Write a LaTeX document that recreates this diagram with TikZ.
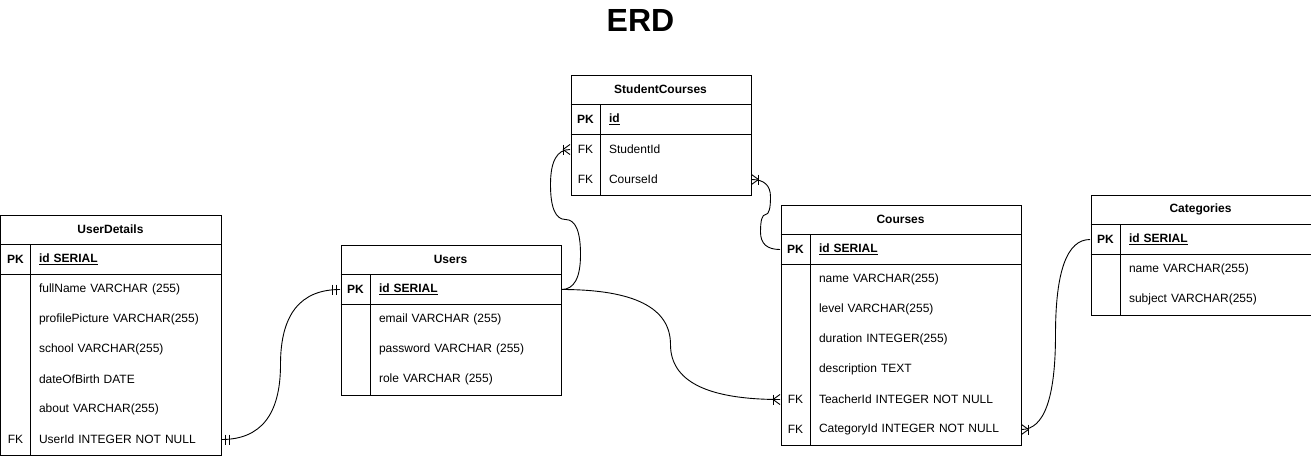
\documentclass[tikz,border=0pt]{standalone}
\usepackage{fontspec}
\setmainfont{Liberation Sans}
\usetikzlibrary{calc}
\begin{document}
\begin{tikzpicture}[x=1pt,y=-1pt,line width=1pt,
  every node/.style={font=\fontsize{12}{14}\selectfont},
  tbl/.style={draw, line width=1pt, inner sep=0pt, anchor=north west},
  hdr/.style={font=\fontsize{12}{14}\selectfont\bfseries, inner sep=0pt},
  keyc/.style={minimum width=30pt, minimum height=30pt, inner sep=0pt},
  pkey/.style={keyc, font=\fontsize{12}{14}\selectfont\bfseries},
  fld/.style={anchor=west, inner xsep=8pt, inner ysep=0pt, minimum height=30pt, align=left},
  fldpk/.style={fld, font=\fontsize{12}{14}\selectfont\bfseries},
  rel/.style={line width=0.9pt},
  endmark/.style={line width=0.9pt}
]
\useasboundingbox (-0.5,-0.5) rectangle (1310.5,454.5);

\node[font=\fontsize{32}{36}\selectfont\bfseries, inner sep=0pt] (title) at (640,19.5) {ERD};

% ---------- UserDetails ----------
\node[tbl, minimum width=220pt, minimum height=240pt] (ud) at (0,214) {};
\draw (0,244) -- (220,244);
\draw (0,274) -- (220,274);
\draw (30,244) -- (30,454);
\node[hdr] (ud-h) at (110,229) {UserDetails};
\node[pkey] (ud-pkk) at (15,259) {PK};
\node[fldpk, text width=174pt] (ud-pk) at (30,259) {\underline{id SERIAL}};
\node[fld, text width=174pt] (ud-f1) at (30,289) {fullName VARCHAR (255)};
\node[fld, text width=174pt] (ud-f2) at (30,319) {profilePicture VARCHAR(255)};
\node[fld, text width=174pt] (ud-f3) at (30,349) {school VARCHAR(255)};
\node[fld, text width=174pt] (ud-f4) at (30,379) {dateOfBirth DATE};
\node[fld, text width=174pt] (ud-f5) at (30,409) {about VARCHAR(255)};
\node[keyc] (ud-uidk) at (15,439) {FK};
\node[fld, text width=174pt] (ud-uid) at (30,439) {UserId INTEGER NOT NULL};

% ---------- Users ----------
\node[tbl, minimum width=220pt, minimum height=150pt] (us) at (340,244) {};
\draw (340,274) -- (560,274);
\draw (340,304) -- (560,304);
\draw (370,274) -- (370,394);
\node[hdr] (us-h) at (450,259) {Users};
\node[pkey] (us-pkk) at (355,289) {PK};
\node[fldpk, text width=174pt] (us-pk) at (370,289) {\underline{id SERIAL}};
\node[fld, text width=174pt] (us-f1) at (370,319) {email VARCHAR (255)};
\node[fld, text width=174pt] (us-f2) at (370,349) {password VARCHAR (255)};
\node[fld, text width=174pt] (us-f3) at (370,379) {role VARCHAR (255)};

% ---------- StudentCourses ----------
\node[tbl, minimum width=180pt, minimum height=120pt] (sc) at (570,74) {};
\draw (570,104) -- (750,104);
\draw (570,134) -- (750,134);
\draw (600,104) -- (600,194);
\node[hdr] (sc-h) at (660,89) {StudentCourses};
\node[pkey] (sc-pkk) at (585,119) {PK};
\node[fldpk, text width=134pt] (sc-pk) at (600,119) {\underline{id}};
\node[keyc] (sc-sidk) at (585,149) {FK};
\node[fld, text width=134pt] (sc-sid) at (600,149) {StudentId};
\node[keyc] (sc-cidk) at (585,179) {FK};
\node[fld, text width=134pt] (sc-cid) at (600,179) {CourseId};

% ---------- Courses ----------
\node[tbl, minimum width=240pt, minimum height=240pt] (co) at (780,204) {};
\draw (780,234) -- (1020,234);
\draw (780,264) -- (1020,264);
\draw (810,234) -- (810,444);
\node[hdr] (co-h) at (900,219) {Courses};
\node[pkey] (co-pkk) at (795,249) {PK};
\node[fldpk, text width=194pt] (co-pk) at (810,249) {\underline{id SERIAL}};
\node[fld, text width=194pt] (co-f1) at (810,279) {name VARCHAR(255)};
\node[fld, text width=194pt] (co-f2) at (810,309) {level VARCHAR(255)};
\node[fld, text width=194pt] (co-f3) at (810,339) {duration INTEGER(255)};
\node[fld, text width=194pt] (co-f4) at (810,369) {description TEXT};
\node[keyc] (co-tidk) at (795,399) {FK};
\node[fld, text width=194pt] (co-tid) at (810,399) {TeacherId INTEGER NOT NULL};
\node[keyc] (co-catk) at (795,429) {FK};
\node[fld, text width=194pt] (co-cat) at (810,429) {CategoryId INTEGER NOT NULL};

% ---------- Categories ----------
\node[tbl, minimum width=220pt, minimum height=120pt] (ca) at (1090,194) {};
\draw (1090,224) -- (1310,224);
\draw (1090,254) -- (1310,254);
\draw (1120,224) -- (1120,314);
\node[hdr] (ca-h) at (1200,209) {Categories};
\node[pkey] (ca-pkk) at (1105,239) {PK};
\node[fldpk, text width=174pt] (ca-pk) at (1120,239) {\underline{id SERIAL}};
\node[fld, text width=174pt] (ca-f1) at (1120,269) {name VARCHAR(255)};
\node[fld, text width=174pt] (ca-f2) at (1120,299) {subject VARCHAR(255)};

% ---------- Relationships ----------
% UserDetails.UserId -> Users.id
\coordinate (e1c1) at (280,439);
\coordinate (e1m) at (280,364);
\coordinate (e1c2) at (280,289);
\draw[rel] (ud-uid.east) .. controls ($(ud-uid.east)!.667!(e1c1)$) and ($(e1m)!.667!(e1c1)$) .. (e1m)
  .. controls ($(e1m)!.667!(e1c2)$) and ($(us-pkk.west)!.667!(e1c2)$) .. (us-pkk.west);
\draw[endmark] ([xshift=4pt]ud-uid.east) ++(0,-5) -- ++(0,10);
\draw[endmark] ([xshift=8pt]ud-uid.east) ++(0,-5) -- ++(0,10);
\draw[endmark] ([xshift=-4pt]us-pkk.west) ++(0,-5) -- ++(0,10);
\draw[endmark] ([xshift=-8pt]us-pkk.west) ++(0,-5) -- ++(0,10);

% Users.id -> StudentCourses.StudentId
\coordinate (e2c1) at (580,289);
\coordinate (e2m1) at (580,254);
\coordinate (e2c2) at (580,219);
\coordinate (e2m2) at (565,219);
\coordinate (e2c3) at (550,219);
\coordinate (e2m3) at (550,184);
\coordinate (e2c4) at (550,149);
\draw[rel] (us-pk.east) .. controls ($(us-pk.east)!.667!(e2c1)$) and ($(e2m1)!.667!(e2c1)$) .. (e2m1)
  .. controls ($(e2m1)!.667!(e2c2)$) and ($(e2m2)!.667!(e2c2)$) .. (e2m2)
  .. controls ($(e2m2)!.667!(e2c3)$) and ($(e2m3)!.667!(e2c3)$) .. (e2m3)
  .. controls ($(e2m3)!.667!(e2c4)$) and ($(sc-sidk.west)!.667!(e2c4)$) .. (sc-sidk.west);
\draw[endmark] ([xshift=-7pt]sc-sidk.west) ++(0,-5) -- ++(0,10);
\draw[endmark] ([xshift=-7pt]sc-sidk.west) -- ([yshift=5pt]sc-sidk.west);
\draw[endmark] ([xshift=-7pt]sc-sidk.west) -- ([yshift=-5pt]sc-sidk.west);

% StudentCourses.CourseId -> Courses.id
\coordinate (e3c1) at (770,179);
\coordinate (e3m1) at (770,196.5);
\coordinate (e3c2) at (770,214);
\coordinate (e3m2) at (765,214);
\coordinate (e3c3) at (760,214);
\coordinate (e3m3) at (760,231.5);
\coordinate (e3c4) at (760,249);
\draw[rel] (sc-cid.east) .. controls ($(sc-cid.east)!.667!(e3c1)$) and ($(e3m1)!.667!(e3c1)$) .. (e3m1)
  .. controls ($(e3m1)!.667!(e3c2)$) and ($(e3m2)!.667!(e3c2)$) .. (e3m2)
  .. controls ($(e3m2)!.667!(e3c3)$) and ($(e3m3)!.667!(e3c3)$) .. (e3m3)
  .. controls ($(e3m3)!.667!(e3c4)$) and ($(co-pkk.west)!.667!(e3c4)$) .. (co-pkk.west);
\draw[endmark] ([xshift=7pt]sc-cid.east) ++(0,-5) -- ++(0,10);
\draw[endmark] ([xshift=7pt]sc-cid.east) -- ([yshift=5pt]sc-cid.east);
\draw[endmark] ([xshift=7pt]sc-cid.east) -- ([yshift=-5pt]sc-cid.east);

% Users.id -> Courses.TeacherId
\coordinate (e4c1) at (670,289);
\coordinate (e4m) at (670,344);
\coordinate (e4c2) at (670,399);
\draw[rel] (us-pk.east) .. controls ($(us-pk.east)!.667!(e4c1)$) and ($(e4m)!.667!(e4c1)$) .. (e4m)
  .. controls ($(e4m)!.667!(e4c2)$) and ($(co-tidk.west)!.667!(e4c2)$) .. (co-tidk.west);
\draw[endmark] ([xshift=-7pt]co-tidk.west) ++(0,-5) -- ++(0,10);
\draw[endmark] ([xshift=-7pt]co-tidk.west) -- ([yshift=5pt]co-tidk.west);
\draw[endmark] ([xshift=-7pt]co-tidk.west) -- ([yshift=-5pt]co-tidk.west);

% Categories.id -> Courses.CategoryId
\coordinate (e5c1) at (1055,239);
\coordinate (e5m) at (1055,334);
\coordinate (e5c2) at (1055,429);
\draw[rel] (ca-pkk.west) .. controls ($(ca-pkk.west)!.667!(e5c1)$) and ($(e5m)!.667!(e5c1)$) .. (e5m)
  .. controls ($(e5m)!.667!(e5c2)$) and ($(co-cat.east)!.667!(e5c2)$) .. (co-cat.east);
\draw[endmark] ([xshift=7pt]co-cat.east) ++(0,-5) -- ++(0,10);
\draw[endmark] ([xshift=7pt]co-cat.east) -- ([yshift=5pt]co-cat.east);
\draw[endmark] ([xshift=7pt]co-cat.east) -- ([yshift=-5pt]co-cat.east);
\end{tikzpicture}
\end{document}
